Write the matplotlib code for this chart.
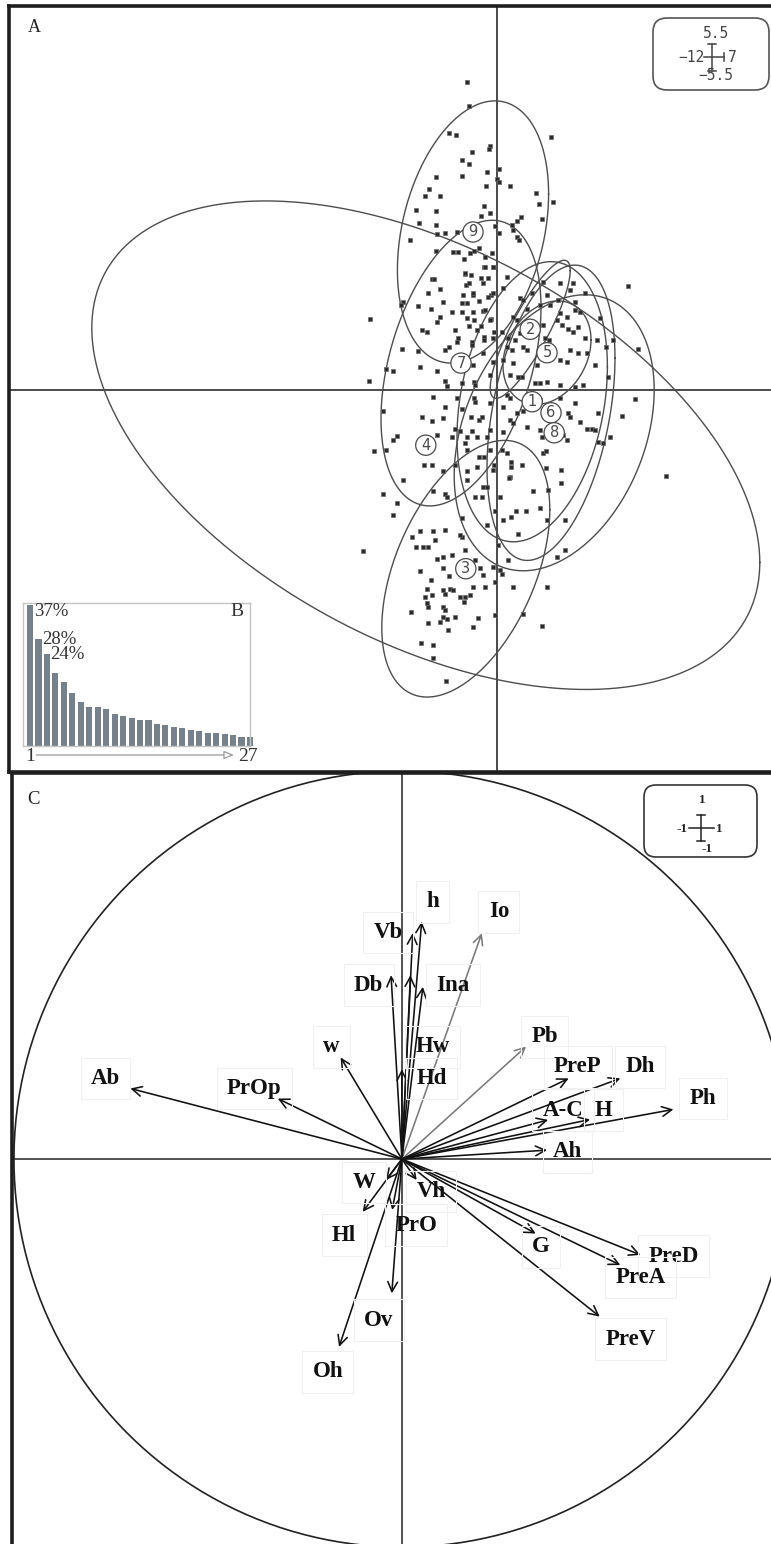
import numpy as np
import matplotlib
matplotlib.use("Agg")
import matplotlib.pyplot as plt
from matplotlib.patches import FancyBboxPatch
from matplotlib.transforms import IdentityTransform, blended_transform_factory
from matplotlib.lines import Line2D

W_PX, H_PX = 771, 1544
SERIF = ["Liberation Serif", "DejaVu Serif"]

# ---------------- individual scores on the first two axes ----------------
pc1 = [
    -0.74, -0.70, -1.19, -1.03, 1.35, -0.18, -0.20, -0.63, -0.88, -0.70,
    0.06, -0.24, -1.53, -0.88, -0.01, 0.06, -0.28, 0.33, -1.69, -1.80,
    -1.43, 0.98, 1.06, 1.39, -2.03, -1.53, -0.32, -0.17, -0.40, 1.13,
    -1.96, -1.53, -0.05, 0.37, 0.49, 0.60, 0.41, 0.06, -1.01, -1.30,
    -1.49, 0.49, 0.54, -2.18, -0.44, -1.53, -1.09, -0.98, -0.13, -0.57,
    -0.82, -0.31, -0.32, -0.07,
    -3.18, -1.63, -1.58, -0.81, -0.65, -0.41, -0.22, 0.24, -1.43, -0.78,
    -0.69, -1.73, -0.84, -0.59, -0.14, -2.35, -2.41, -1.98, -1.36, -0.88,
    -0.44, -0.23, -1.65, -1.12, -0.88, -0.59, -0.36, -1.43, -1.49, -0.75,
    -0.57, -0.14, -1.88, -1.76, -1.06, -0.69, -0.41, -0.08, -0.97, -1.00,
    -0.63, -0.63, -0.32, -0.32, -2.37, -1.98, -1.30, -1.20, -1.92, -2.78,
    -2.59, -1.51, -3.21, -1.30, -1.24, -0.88, -0.57, -1.61, -1.00, -0.57,
    -2.86, -1.30, -0.88, -1.88, -1.63, -1.36, -1.06, -0.93, -0.65, -0.44,
    -2.50, -2.59, -1.49, -1.12, -0.63, -0.81, -3.08, -2.78, -1.83, -1.63,
    -1.36, -1.06, -0.75, -2.35, -2.84, -1.61, -1.30, -1.24, -2.50, -2.59,
    -2.13, -1.92, -1.61, -1.30, -1.86, -1.73, -1.55, -3.36, -1.36, -1.12,
    -0.88, -1.92, -1.36,
    -0.68, -0.30, -0.10, -0.80, -0.35, -0.10, 0.15, -0.75, -0.60, -0.30,
    -0.18, -0.50, -0.10, 0.13, 0.28, 0.25, 0.38, -0.35, -0.60, -0.10,
    0.15, -0.18, 0.33, 0.53, -0.55, 0.25, -0.55, -0.18, 0.15, -0.38,
    -0.18, 0.33, 0.40, -0.75, -0.50, -0.25, 0.15, -0.18, -0.75, 0.25,
    -0.50, -0.10, -0.75, -0.35, -0.25, 0.33,
    3.28, 1.58, 1.91, 1.16, 0.58, 0.66, 0.87, 1.83, 1.24, 1.53,
    1.95, 2.20, 0.74, 1.08, 1.33, 0.41, 0.49, 1.58, 1.74, 1.49,
    1.95, 2.08, 2.58, 1.62, 1.78, 1.16, 2.03, 2.20, 1.91, 0.58,
    0.45, 1.20, 1.31, 2.49, 2.73, 2.91, 3.53, 0.66, 0.74, 1.58,
    1.74, 1.83, 2.03, 2.24, 0.99, 0.41, 2.45, 0.62, 0.95, 1.08,
    1.24, 1.58, 1.95, 2.16, 2.78, 3.45, 3.12, 2.53, 1.58, 1.08,
    0.33, 1.95, 0.49, 0.66, 1.78, 1.83, 2.08, 0.74, 1.08, 2.24,
    2.37, 2.45, 2.53, 2.66, 1.66, 1.74, 1.12,
    4.23, 2.82, 1.71, 1.69, 1.50, 1.59, 1.59, 1.16, 1.22, 0.89,
    0.48, 0.73, 1.28, 1.22, 0.36, 0.36, -0.07, -0.32, -0.44, 0.30,
    -0.38, 0.36, -0.26,
    1.24, 0.62, 0.12, 0.08, 0.16, 0.53, 1.08, -0.55, -0.88, -0.93,
    -0.80, 0.03, 0.28, -0.09, 0.08, 0.41, 1.24, -0.05, -0.34, -0.43,
    -0.59, -0.30, -0.80, -0.68, -0.93, -1.18, -1.09, -0.05, 0.66, 1.12,
    -0.47, -0.59, -1.05, -1.22, -1.34, -1.30,
    -2.03, -1.49, -1.65, -1.19, -0.55, -1.76, -1.63, -1.80, -1.76, -1.72,
    -1.34, -1.30, -0.83, -2.15, -1.36, -1.26, -1.43, -1.72, -1.91, -1.61,
    -1.61, -1.28, -0.05, 0.12,
]
pc2 = [
    4.46, 4.11, 3.72, 3.69, 3.67, 3.54, 3.49, 3.45, 3.34, 3.27,
    3.21, 3.16, 3.08, 3.10, 3.06, 3.01, 2.96, 2.95, 2.92, 2.81,
    2.81, 2.86, 2.70, 2.72, 2.61, 2.59, 2.66, 2.56, 2.52, 2.48,
    2.42, 2.39, 2.37, 2.39, 2.45, 2.51, 2.32, 2.28, 2.29, 2.28,
    2.26, 2.22, 2.17, 2.17, 2.06, 2.01, 2.00, 2.00, 1.98, 2.02,
    1.90, 1.93, 1.78, 1.78,
    1.03, 1.61, 1.61, 1.68, 1.67, 1.62, 1.62, 1.64, 1.47, 1.52,
    1.55, 1.40, 1.37, 1.37, 1.37, 1.27, 1.23, 1.22, 1.27, 1.26,
    1.29, 1.35, 1.17, 1.13, 1.13, 1.13, 1.15, 1.06, 0.98, 1.04,
    1.01, 1.03, 0.87, 0.84, 0.87, 0.93, 0.93, 0.84, 0.75, 0.70,
    0.70, 0.65, 0.77, 0.72, 0.60, 0.56, 0.58, 0.63, 0.34, 0.31,
    0.27, 0.27, 0.13, 0.13, 0.06, 0.10, 0.11, -0.10, -0.12, -0.12,
    -0.31, -0.24, -0.27, -0.39, -0.45, -0.40, -0.56, -0.60, -0.39, -0.43,
    -0.67, -0.72, -0.65, -0.68, -0.60, -0.77, -0.89, -0.87, -1.08, -1.08,
    -1.18, -1.09, -1.18, -1.30, -1.50, -1.47, -1.50, -1.55, -1.64, -1.81,
    -2.13, -2.05, -2.05, -2.03, -2.27, -2.27, -2.17, -2.34, -2.42, -2.39,
    -2.13, -2.63, -2.58,
    1.99, 1.78, 1.78, 1.70, 1.55, 1.41, 1.48, 1.26, 1.41, 1.16,
    1.01, 0.87, 0.75, 0.84, 0.75, 0.62, 0.58, 0.54, 0.36, 0.41,
    0.43, 0.22, 0.22, 0.19, 0.07, -0.07, -0.17, -0.19, -0.25, -0.39,
    -0.58, -0.43, -0.48, -0.68, -0.68, -0.68, -0.61, -0.87, -0.87, -0.91,
    -1.12, -1.16, -1.30, -1.41, -1.41, -1.26,
    1.51, 1.55, 1.55, 1.57, 1.33, 1.30, 1.40, 1.45, 1.38, 1.30,
    1.28, 1.40, 1.18, 1.23, 1.23, 1.06, 1.01, 1.11, 1.06, 1.01,
    1.16, 1.13, 1.04, 0.94, 0.89, 0.94, 0.92, 0.75, 0.84, 0.82,
    0.72, 0.75, 0.72, 0.72, 0.63, 0.73, 0.59, 0.63, 0.58, 0.43,
    0.41, 0.58, 0.53, 0.53, 0.36, 0.39, 0.36, 0.19, 0.10, 0.10,
    0.12, 0.07, 0.05, 0.07, 0.19, -0.13, -0.38, -0.34, -0.12, -0.14,
    -0.12, -0.19, -0.34, -0.31, -0.34, -0.39, -0.46, -0.53, -0.58, -0.56,
    -0.56, -0.58, -0.75, -0.77, -0.65, -0.72, -0.68,
    -1.24, -0.68, -1.88, -2.32, -2.42, -1.16, -1.35, -0.92, -0.89, -1.47,
    -1.76, -1.76, -1.45, -1.13, -1.04, -1.11, -1.09, -0.97, -0.97, -1.28,
    -1.55, -1.84, -1.96,
    -1.89, -1.09, -0.87, -1.55, -1.88, -2.08, -1.71, -1.55, -1.86, -2.10,
    -2.32, -2.25, -2.46, -2.56, -2.61, -2.86, -2.86, -2.78, -2.68, -2.58,
    -2.85, -2.85, -3.00, -2.97, -3.00, -2.89, -2.90, -3.26, -3.24, -3.42,
    -3.31, -3.44, -3.29, -3.48, -3.14, -3.19,
    -2.28, -2.45, -2.75, -2.70, -2.47, -2.89, -2.97, -3.00, -3.09, -3.14,
    -2.90, -2.96, -3.07, -3.22, -3.29, -3.32, -3.36, -3.38, -3.66, -3.69,
    -3.89, -4.22, -1.75, -2.66,
]

# ---------------- group centroids and dispersion ellipses ----------------
group_names = ["1", "2", "3", "4", "5", "6", "7", "8", "9"]
group_cx = [0.88, 0.83, -0.78, -1.78, 1.25, 1.35, -0.90, 1.43, -0.60]
group_cy = [-0.17, 0.88, -2.59, -0.80, 0.54, -0.33, 0.39, -0.62, 2.29]
group_sx = [1.88, 1.00, 2.10, 8.35, 1.10, 1.60, 2.00, 2.50, 1.89]
group_sy = [2.03, 1.00, 1.86, 3.54, 0.75, 2.14, 2.07, 2.00, 1.90]
group_rho = [0.25, 0.85, 0.46, -0.48, 0.25, 0.37, 0.39, 0.31, 0.29]

# ---------------- eigenvalues (% of inertia) ----------------
eig_pct = [37, 28, 24, 19.2, 16.9, 13.8, 11.6, 10.3, 10.1, 9.8,
           8.4, 7.9, 7.4, 6.8, 6.8, 5.8, 5.5, 4.9, 4.6, 4.1,
           3.9, 3.3, 3.3, 3.1, 2.9, 2.4, 2.3]

# ---------------- variable loadings (correlation circle) ----------------
var_names = ["h", "Vb", "Io", "Db", "Hw", "Ina", "Hd", "w", "Ab", "PrOp",
             "Pb", "PreP", "Dh", "Ph", "A-C", "H", "Ah", "W", "Vh", "Hl",
             "PrO", "Ov", "Oh", "G", "PreD", "PreA", "PreV"]
load1 = [0.051, 0.028, 0.206, -0.028, 0.022, 0.054, 0.000, -0.158, -0.700, -0.320,
         0.320, 0.430, 0.563, 0.700, 0.377, 0.485, 0.374, -0.041, 0.038, -0.101,
         -0.025, -0.026, -0.162, 0.345, 0.615, 0.563, 0.510]
load2 = [0.612, 0.583, 0.582, 0.474, 0.474, 0.444, 0.232, 0.262, 0.182, 0.156,
         0.290, 0.208, 0.208, 0.128, 0.101, 0.102, 0.023, -0.054, -0.054, -0.136,
         -0.131, -0.346, -0.484, -0.192, -0.247, -0.273, -0.406]

# label placement for the correlation circle (layout only)
label_at = {
    "h": (0.079, 0.663), "Io": (0.250, 0.637), "Vb": (-0.035, 0.584),
    "Db": (-0.086, 0.448), "Ina": (0.132, 0.448), "w": (-0.181, 0.289),
    "Hw": (0.079, 0.289), "Hd": (0.077, 0.208), "Pb": (0.368, 0.315),
    "PreP": (0.453, 0.238), "Dh": (0.615, 0.238), "Ab": (-0.764, 0.208),
    "PrOp": (-0.380, 0.182), "Ph": (0.776, 0.156), "A-C": (0.415, 0.126),
    "H": (0.520, 0.126), "Ah": (0.427, 0.019), "W": (-0.098, -0.060),
    "Vh": (0.075, -0.084), "Hl": (-0.149, -0.196), "PrO": (0.037, -0.170),
    "G": (0.358, -0.226), "PreD": (0.700, -0.250), "PreA": (0.615, -0.305),
    "Ov": (-0.060, -0.415), "PreV": (0.590, -0.464), "Oh": (-0.191, -0.548),
}
grey_arrows = {"Io", "Pb"}


def fx(x):
    return x / W_PX


def fy(y):
    return 1 - y / H_PX


fig = plt.figure(figsize=(W_PX / 100, H_PX / 100), dpi=100)
fig.patch.set_facecolor("white")
PIX = IdentityTransform()


def pix_text(x, y, s, **kw):
    fig.text(x, H_PX - y, s, transform=PIX, **kw)


def pix_line(xs, ys, **kw):
    fig.add_artist(Line2D(xs, [H_PX - v for v in ys], transform=PIX, **kw))


def pix_box(x0, y0, x1, y1, r, **kw):
    fig.add_artist(FancyBboxPatch((x0, H_PX - y1), x1 - x0, y1 - y0,
                                  boxstyle=f"round,pad=0,rounding_size={r}",
                                  transform=PIX, **kw))


# ======================= panel A: individuals and groups =======================
axA = fig.add_axes([fx(9), fy(772), fx(772) - fx(9), fy(6) - fy(772)])
axA.set_xlim(-12.2, 6.875)
axA.set_ylim(-5.536, 5.565)
axA.set_xticks([])
axA.set_yticks([])
for side in ("left", "top", "bottom"):
    axA.spines[side].set_linewidth(2.6)
    axA.spines[side].set_color("#1e1e1e")
axA.spines["right"].set_visible(False)

axA.axhline(0, color="#4a4a4a", lw=1.4, zorder=1)
axA.axvline(0, color="#4a4a4a", lw=1.4, zorder=1)

t = np.linspace(0, 2 * np.pi, 400)
for cx, cy, sx, sy, r in zip(group_cx, group_cy, group_sx, group_sy, group_rho):
    ex = cx + sx * np.cos(t)
    ey = cy + sy * (r * np.cos(t) + np.sqrt(1 - r * r) * np.sin(t))
    axA.plot(ex, ey, color="#4d4d4d", lw=1.0, zorder=2)

axA.plot(pc1, pc2, ls="none", marker="s", ms=3.2, mfc="#2b2b2b",
         mec="#6a6a6a", mew=0.5, zorder=3)

for name, cx, cy in zip(group_names, group_cx, group_cy):
    axA.text(cx, cy, name, ha="center", va="center", fontsize=10.5,
             color="#4a4a4a", zorder=5,
             bbox=dict(boxstyle="circle,pad=0.18", fc="white", ec="#4a4a4a", lw=0.9))

pix_text(34, 27, "A", fontsize=13, family=SERIF, ha="center", va="center", color="#222")

# scale box of panel A
pix_box(653, 18, 769, 90, 14, fc="white", ec="#555555", lw=1.2)
mono = dict(family="DejaVu Sans Mono", fontsize=10.5, color="#444", va="center")
pix_text(716, 33, "5.5", ha="center", **mono)
pix_text(705, 57, "\u221212", ha="right", **mono)
pix_text(728, 57, "7", ha="left", **mono)
pix_text(716, 76, "\u22125.5", ha="center", **mono)
pix_line([712, 712], [44, 71], color="#444", lw=1.1)
pix_line([708, 716], [44, 44], color="#444", lw=1.1)
pix_line([708, 716], [71, 71], color="#444", lw=1.1)
pix_line([704, 724], [57, 57], color="#444", lw=1.1)
pix_line([724, 724], [53, 61], color="#444", lw=1.1)

# ======================= inset B: eigenvalue bar chart =======================
axB = fig.add_axes([fx(23), fy(746), fx(250) - fx(23), fy(603) - fy(746)])
axB.set_zorder(4)
axB.set_facecolor("white")
axB.set_xlim(0.17, 27.0)
axB.set_ylim(0, 37.5)
axB.set_xticks([])
axB.set_yticks([])
for s in axB.spines.values():
    s.set_color("#c4c4c4")
    s.set_linewidth(1.0)
idx = np.arange(1, len(eig_pct) + 1)
axB.bar(idx, eig_pct, width=0.72, color="#77818b", clip_on=False, zorder=2)
for i in range(3):
    va = "top" if i == 0 else "center"
    yv = eig_pct[i] + 0.6 if i == 0 else eig_pct[i]
    axB.text(idx[i] + 0.42, yv, f"{eig_pct[i]:.0f}%", ha="left", va=va,
             fontsize=13.5, family=SERIF, color="#333")
axB.text(26.2, 35.3, "B", ha="right", va="center", fontsize=14,
         family=SERIF, color="#333")
trB = blended_transform_factory(axB.transData, axB.transAxes)
axB.annotate("", xy=(25.1, -0.063), xytext=(1.75, -0.063),
             xycoords=trB, textcoords=trB, annotation_clip=False,
             arrowprops=dict(arrowstyle="-|>,head_length=0.6,head_width=0.25",
                             fc="white", ec="#9a9a9a", lw=0.9,
                             shrinkA=0, shrinkB=0))
axB.text(1.0, -0.075, "1", transform=trB, ha="center", va="center",
         fontsize=14, family=SERIF, color="#333", clip_on=False)
axB.text(26.7, -0.075, "27", transform=trB, ha="center", va="center",
         fontsize=14, family=SERIF, color="#333", clip_on=False)

# ======================= panel C: correlation circle =======================
axC = fig.add_axes([fx(12), fy(1544), fx(772) - fx(12), fy(773) - fy(1544)])
axC.set_xlim(-1.005, 0.954)
axC.set_ylim(-0.992, 0.995)
axC.set_xticks([])
axC.set_yticks([])
for side in ("left", "top"):
    axC.spines[side].set_linewidth(2.6)
    axC.spines[side].set_color("#1e1e1e")
axC.spines["right"].set_visible(False)
axC.spines["bottom"].set_visible(False)

axC.axhline(0, color="#222", lw=1.1, zorder=1)
axC.axvline(0, color="#222", lw=1.1, zorder=1)
axC.plot(np.cos(t), np.sin(t), color="#222", lw=1.2, zorder=1)

for name, a1, a2 in zip(var_names, load1, load2):
    col = "#7a7a7a" if name in grey_arrows else "#111111"
    axC.annotate("", xy=(a1, a2), xytext=(0, 0),
                 arrowprops=dict(arrowstyle="->,head_length=0.7,head_width=0.35",
                                 color=col, lw=1.15, shrinkA=0, shrinkB=0),
                 zorder=2)
    lx, ly = label_at[name]
    axC.text(lx, ly, name, ha="center", va="center", fontsize=16.5,
             family=SERIF, fontweight="bold", color="#111", zorder=3,
             bbox=dict(boxstyle="square,pad=0.45", fc="none", ec="#f0f0f0", lw=0.8))

pix_text(33, 800, "C", fontsize=13.5, family=SERIF, ha="center", va="center", color="#222")

# scale box of panel C
pix_box(644, 785, 757, 857, 12, fc="white", ec="#333333", lw=1.2)
small = dict(family=SERIF, fontsize=9.5, fontweight="bold", color="#222", va="center")
pix_text(702, 800, "1", ha="center", **small)
pix_text(688, 829, "-1", ha="right", **small)
pix_text(716, 829, "1", ha="left", **small)
pix_text(707, 849, "-1", ha="center", **small)
pix_line([701, 701], [815, 841], color="#222", lw=1.1)
pix_line([697, 705], [815, 815], color="#222", lw=1.1)
pix_line([697, 705], [841, 841], color="#222", lw=1.1)
pix_line([689, 714], [828, 828], color="#222", lw=1.1)

fig.savefig("out.png", dpi=100)
